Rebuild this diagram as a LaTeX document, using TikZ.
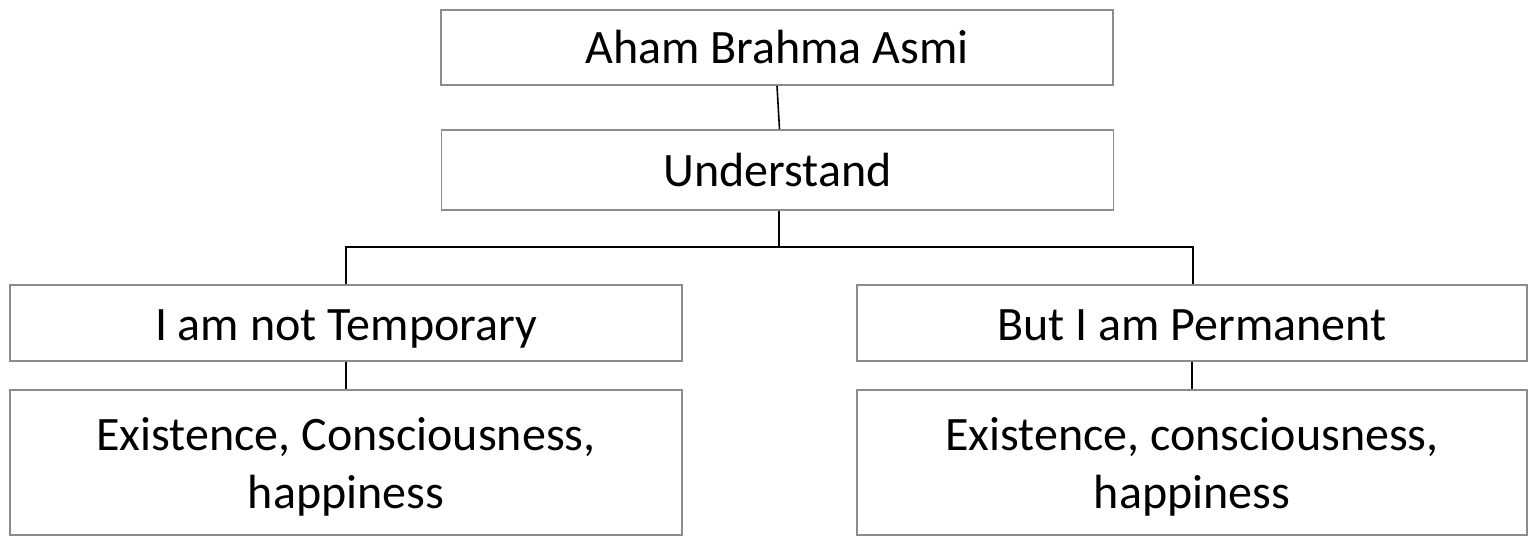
\documentclass[tikz,border=0pt]{standalone}
\usepackage{fontspec}
\setmainfont{Carlito}
\definecolor{boxgray}{HTML}{8C8C8C}
\begin{document}
\begin{tikzpicture}[x=1pt,y=-1pt,
  box/.style={draw=boxgray, line width=1.6pt, fill=white, inner sep=0pt, align=center,
    text depth=0pt, font=\fontsize{48}{58}\selectfont},
  link/.style={draw=black, line width=1.6pt}]
\useasboundingbox (0,0) rectangle (1528,538);
\node[box, minimum width=672pt, minimum height=75pt, text height=31pt] (top) at (777,47.5) {Aham Brahma Asmi};
\node[box, minimum width=672pt, minimum height=80pt, text height=33pt] (und) at (777.5,170) {Understand};
\node[box, minimum width=672pt, minimum height=76pt, text height=34pt] (l1) at (346,323) {I am not Temporary};
\node[box, minimum width=670pt, minimum height=76pt, text height=34pt] (r1) at (1192,323) {But I am Permanent};
\node[box, minimum width=672pt, minimum height=145pt] (l2) at (346,462.5) {Existence, Consciousness,\\happiness};
\node[box, minimum width=670pt, minimum height=145pt] (r2) at (1192,462.5) {Existence, consciousness,\\happiness};
\coordinate (bus) at (779,247);
\draw[link] (top.south) -- ([xshift=2pt]und.north);
\draw[link] ([xshift=1.5pt]und.south) -- (bus);
\draw[link] (l1.north) |- (bus) -| ([xshift=1pt]r1.north);
\draw[link] (l1.south) -- (l2.north);
\draw[link] (r1.south) -- (r2.north);
\end{tikzpicture}
\end{document}
